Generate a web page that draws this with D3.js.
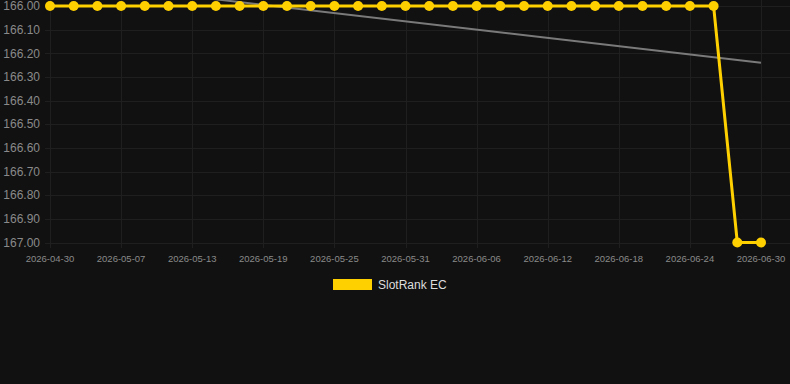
<!DOCTYPE html>
<html>
<head>
<meta charset="utf-8">
<script src="https://cdn.jsdelivr.net/npm/d3@7"></script>
<style>
  html, body { margin: 0; padding: 0; background: #111111; }
  svg { display: block; font-family: "Liberation Sans", Arial, sans-serif; }
</style>
</head>
<body>
<div id="chart"></div>
<script>
const dates = [
  "2026-04-30", "2026-05-03", "2026-05-05", "2026-05-07", "2026-05-09", "2026-05-11",
  "2026-05-13", "2026-05-15", "2026-05-17", "2026-05-19", "2026-05-21", "2026-05-23",
  "2026-05-25", "2026-05-27", "2026-05-29", "2026-05-31", "2026-06-02", "2026-06-04",
  "2026-06-06", "2026-06-08", "2026-06-10", "2026-06-12", "2026-06-14", "2026-06-16",
  "2026-06-18", "2026-06-20", "2026-06-22", "2026-06-24", "2026-06-26", "2026-06-28",
  "2026-06-30"
];
const rank = [
  166, 166, 166, 166, 166, 166, 166, 166, 166, 166, 166, 166, 166, 166, 166, 166,
  166, 166, 166, 166, 166, 166, 166, 166, 166, 166, 166, 166, 166, 167, 167
];
// trend line, start and end values
const trend = [165.89, 166.24];
const yTicks = [166.0, 166.1, 166.2, 166.3, 166.4, 166.5, 166.6, 166.7, 166.8, 166.9, 167.0];
const seriesName = "SlotRank EC";

const width = 790, height = 384;
const margin = { top: 6, right: 29, bottom: 142, left: 50 };

const svg = d3.select("#chart").append("svg")
  .attr("width", width)
  .attr("height", height);

const x = d3.scalePoint()
  .domain(dates)
  .range([margin.left, width - margin.right]);

const y = d3.scaleLinear()
  .domain([166, 167])
  .range([margin.top, height - margin.bottom + 0.5]);

const shownDates = dates.filter((d, i) => i % 3 === 0);

// grid
svg.append("g")
  .selectAll("line")
  .data(yTicks)
  .join("line")
  .attr("x1", margin.left - 5)
  .attr("x2", width)
  .attr("y1", d => Math.round(y(d)) + 0.5)
  .attr("y2", d => Math.round(y(d)) + 0.5)
  .attr("stroke", "#1f1f1f")
  .attr("stroke-width", 1);

svg.append("g")
  .selectAll("line")
  .data(shownDates)
  .join("line")
  .attr("x1", d => Math.round(x(d)) + 0.5)
  .attr("x2", d => Math.round(x(d)) + 0.5)
  .attr("y1", 0)
  .attr("y2", height - margin.bottom + 6)
  .attr("stroke", "#1f1f1f")
  .attr("stroke-width", 1);

// y labels
svg.append("g")
  .selectAll("text")
  .data(yTicks)
  .join("text")
  .attr("x", 40)
  .attr("y", d => y(d))
  .attr("dy", "0.35em")
  .attr("text-anchor", "end")
  .attr("fill", "#8a8a8a")
  .attr("font-size", "12px")
  .text(d => d.toFixed(2));

// x labels
svg.append("g")
  .selectAll("text")
  .data(shownDates)
  .join("text")
  .attr("x", d => x(d))
  .attr("y", height - margin.bottom + 20)
  .attr("text-anchor", "middle")
  .attr("fill", "#8a8a8a")
  .attr("font-size", "9.5px")
  .text(d => d);

// trend
svg.append("line")
  .attr("x1", x(dates[0]))
  .attr("x2", x(dates[dates.length - 1]))
  .attr("y1", y(trend[0]))
  .attr("y2", y(trend[1]))
  .attr("stroke", "#7a7a7a")
  .attr("stroke-width", 2);

// series
const line = d3.line()
  .x((d, i) => x(dates[i]))
  .y(d => y(d));

svg.append("path")
  .datum(rank)
  .attr("d", line)
  .attr("fill", "none")
  .attr("stroke", "#FFD000")
  .attr("stroke-width", 3);

svg.append("g")
  .attr("fill", "#FFD000")
  .selectAll("circle")
  .data(rank)
  .join("circle")
  .attr("cx", (d, i) => x(dates[i]))
  .attr("cy", d => y(d))
  .attr("r", 5);

// legend
const legend = svg.append("g").attr("transform", "translate(333, 279)");
legend.append("rect")
  .attr("width", 39)
  .attr("height", 11)
  .attr("fill", "#FFD000");
legend.append("text")
  .attr("x", 45)
  .attr("y", 6)
  .attr("dy", "0.35em")
  .attr("fill", "#dddddd")
  .attr("font-size", "12px")
  .text(seriesName);
</script>
</body>
</html>
